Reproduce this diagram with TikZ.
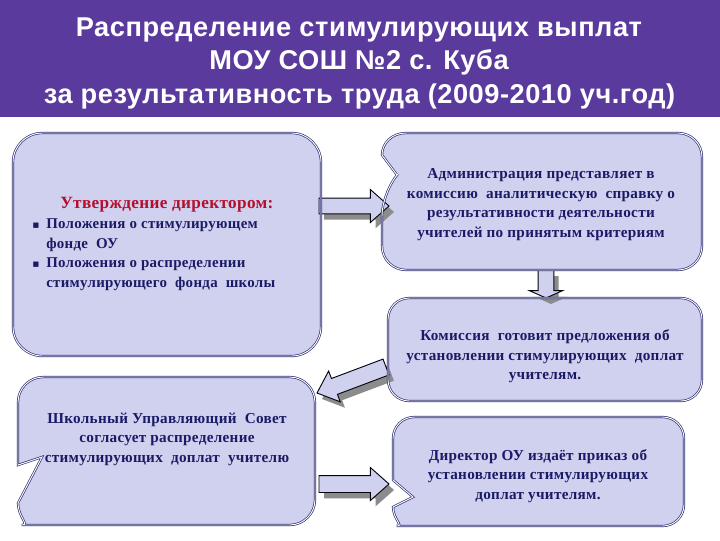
\documentclass[tikz,border=0pt]{standalone}
\usepackage{fontspec}
\setmainfont{Liberation Serif}
\newfontfamily\titlefont[LetterSpace=2.0]{Liberation Sans}
\newfontfamily\bodyfont[LetterSpace=2.0]{Liberation Serif}
\newfontfamily\symfont{DejaVu Sans}
\usetikzlibrary{calc,shapes.arrows}
\definecolor{headbg}{HTML}{5B3A9E}
\definecolor{boxfill}{HTML}{CFD1EF}
\definecolor{navy}{HTML}{1B1A66}
\definecolor{edgeblue}{HTML}{2A2A70}
\definecolor{redtxt}{HTML}{B2102E}
\definecolor{shadowgray}{HTML}{8C8C8C}
\tikzset{
  boxbase/.style={fill=boxfill,draw=none},
  boxedge/.style={draw=edgeblue,line width=.5pt,double=white,double distance=.7pt},
  anchorbox/.style={inner sep=0pt,outer sep=0pt,draw=none},
  titleline/.style={text=white,font=\titlefont\fontsize{20.4}{25}\selectfont\bfseries,align=center,inner sep=0pt},
  bodytext/.style={text=navy,font=\bodyfont\fontsize{11.4}{14.6}\selectfont\bfseries,align=center,inner sep=0pt},
  blockbase/.style={single arrow,inner xsep=0pt,outer sep=0pt,anchor=tail},
  blockface/.style={blockbase,draw=black!85!navy,line width=.7pt,fill=boxfill},
  blockshadow/.style={blockbase,fill=shadowgray,draw=none,xshift=3.75pt,yshift=-4.5pt}
}
\newcommand{\boxpathA}{(150,133) [rounded corners=22pt] -- (321,133) -- (321,356) -- (13,356) -- (13,133) -- cycle}
\newcommand{\boxpathB}{(406,133) [rounded corners=18pt] -- (702,133) -- (702,270) -- (382,270) -- (382,192) [sharp corners] -- (397,175) -- (382,155) .. controls (382,143) and (392,133) .. (406,133) -- cycle}
\newcommand{\boxpathC}{(545,298) [rounded corners=16pt] -- (702,298) -- (702,401) -- (388,401) -- (388,298) -- cycle}
\newcommand{\boxpathD}{(18,465) [rounded corners=19pt] -- (18,377) -- (315,377) -- (315,525) -- (47,525) [sharp corners] .. controls (30,525) and (18,517) .. (18,503) -- (42,457) -- cycle}
\newcommand{\boxpathE}{(393,480) [rounded corners=16pt] -- (393,417) -- (684,417) -- (684,526) -- (418,526) [sharp corners] .. controls (404,526) and (393,519) .. (393,507) -- (413,497) -- cycle}
% name, tail, tip, half shaft width, head extend, tip angle
\newcommand{\blockarrow}[6]{%
  \path let \p1=($(#3)-(#2)$), \n1={atan2(\y1,\x1)}, \n2={veclen(\x1,\y1)} in
    node[blockshadow,rotate=\n1,minimum height=\n2,inner ysep=#4,single arrow head extend=#5,single arrow tip angle=#6] at (#2) {};
  \path let \p1=($(#3)-(#2)$), \n1={atan2(\y1,\x1)}, \n2={veclen(\x1,\y1)} in
    node[blockface,rotate=\n1,minimum height=\n2,inner ysep=#4,single arrow head extend=#5,single arrow tip angle=#6] (#1) at (#2) {};
}
\begin{document}
\begin{tikzpicture}[x=0.75pt,y=-0.75pt]
\useasboundingbox (0,0) rectangle (720,540);
\fill[white] (0,0) rectangle (720,540);
\fill[headbg] (0,0) rectangle (720,117);
\node[titleline] (t1) at (359,30) {Распределение стимулирующих выплат};
\node[titleline] (t2) at (359,62) {МОУ СОШ №2 с. Куба};
\node[titleline] (t3) at (359.5,96) {за результативность труда (2009-2010 уч.год)};
% box anchors
\node[anchorbox,minimum width=231pt,minimum height=167.25pt] (b1) at (167,244.5) {};
\node[anchorbox,minimum width=240pt,minimum height=102.75pt] (b2) at (542,201.5) {};
\node[anchorbox,minimum width=235.5pt,minimum height=77.25pt] (b3) at (545,349.5) {};
\node[anchorbox,minimum width=222.75pt,minimum height=111pt] (b4) at (166.5,451) {};
\node[anchorbox,minimum width=218.25pt,minimum height=81.75pt] (b5) at (538.5,471.5) {};
% fills
\path[boxbase] \boxpathA;
\path[boxbase] \boxpathB;
\path[boxbase] \boxpathC;
\path[boxbase] \boxpathD;
\path[boxbase] \boxpathE;
% connectors
\coordinate (a1s) at ($(b1.east)+(-2,-38.5)$);
\coordinate (a1e) at ($(b2.west)+(7,4.5)$);
\coordinate (a2s) at ($(b2.south)+(4,0)$);
\coordinate (a2e) at ($(b3.north)+(1,0)$);
\coordinate (a3s) at ($(b3.west)+(-2,17.5)$);
\coordinate (a3e) at ($(b4.east)+(2,-58)$);
\coordinate (a4s) at ($(b4.east)+(4,33)$);
\coordinate (a4e) at ($(b5.west)+(-4,12.5)$);
\blockarrow{a1}{a1s}{a1e}{5.5pt}{6.5pt}{83}
\blockarrow{a2}{a2s}{a2e}{5.6pt}{6.4pt}{132}
\blockarrow{a3}{a3s}{a3e}{6pt}{6pt}{83}
\blockarrow{a4}{a4s}{a4e}{6pt}{6pt}{83}
% frames on top
\draw[boxedge] \boxpathA;
\draw[boxedge] \boxpathB;
\draw[boxedge] \boxpathC;
\draw[boxedge] \boxpathD;
\draw[boxedge] \boxpathE;
% texts
\node[anchor=west,inner sep=0pt,text=redtxt,font=\bodyfont\fontsize{12.9}{15}\selectfont\bfseries] (h1) at (60,205) {Утверждение директором:};
\node[anchor=north west,inner sep=0pt,align=left,text=navy,font=\bodyfont\fontsize{11.2}{14.7}\selectfont\bfseries] (l1) at (46,218.5)
  {\llap{{\symfont\fontsize{8}{8}\selectfont ▪}\hspace{5pt}}Положения о стимулирующем\\фонде~~ОУ\\\llap{{\symfont\fontsize{8}{8}\selectfont ▪}\hspace{5pt}}Положения о распределении\\стимулирующего~~фонда~~школы};
\node[bodytext] (x2) at (541,204.5) {Администрация представляет в\\комиссию~~аналитическую~~справку о\\результативности деятельности\\учителей по принятым критериям};
\node[bodytext] (x3) at (545,356.5) {Комиссия~~готовит предложения об\\установлении стимулирующих~~доплат\\учителям.};
\node[bodytext] (x4) at (167,439) {Школьный Управляющий~~Совет\\согласует распределение\\стимулирующих~~доплат~~учителю};
\node[bodytext] (x5) at (538,476) {Директор ОУ издаёт приказ об\\установлении стимулирующих\\доплат учителям.};
\end{tikzpicture}
\end{document}
